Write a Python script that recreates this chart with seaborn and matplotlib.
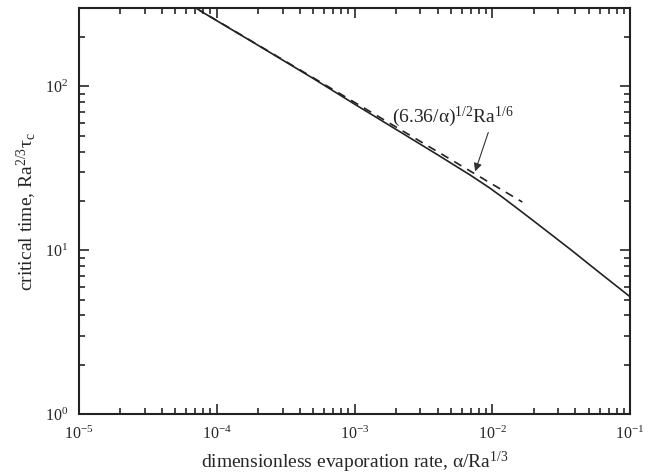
import numpy as np
import pandas as pd
import matplotlib
matplotlib.use('Agg')
import matplotlib.pyplot as plt
import matplotlib.ticker as mticker
import seaborn as sns

# values
rate = [7.5e-5, 2e-4, 5e-4, 1e-3, 2e-3, 4e-3, 6.9e-3, 9.5e-3, 1.2e-2, 1.6e-2,
        2.1e-2, 3.7e-2, 6e-2, 1e-1]
crit_time = [291, 178, 112, 78, 54.7, 38.3, 28.8, 24.1, 20.9, 17.4,
             14.6, 10.1, 7.3, 5.2]

asym_rate = [7.1e-5, 1.65e-2]
asym_time = [300, 19.7]

sns.set_style('ticks')
plt.rcParams['font.family'] = ['Liberation Serif', 'DejaVu Serif']
plt.rcParams['mathtext.fontset'] = 'custom'
plt.rcParams['mathtext.rm'] = 'Liberation Serif'
plt.rcParams['mathtext.it'] = 'Liberation Serif:italic'

fig = plt.figure(figsize=(6.53, 4.76), dpi=100)
ax = fig.add_axes([0.121, 0.130, 0.844, 0.8526])

df = pd.DataFrame({'x': rate, 'y': crit_time})
df_a = pd.DataFrame({'x': asym_rate, 'y': asym_time})
sns.lineplot(data=df, x='x', y='y', color='#222222', lw=1.2, ax=ax)
sns.lineplot(data=df_a, x='x', y='y', color='#222222', lw=1.2, ax=ax,
             linestyle=(0, (5, 4)))

ax.set_xscale('log')
ax.set_yscale('log')
ax.set_xlim(1e-5, 1e-1)
ax.set_ylim(1, 300)

ax.xaxis.set_major_locator(mticker.LogLocator(base=10, numticks=10))
ax.yaxis.set_major_locator(mticker.LogLocator(base=10, numticks=10))
ax.xaxis.set_minor_locator(mticker.LogLocator(base=10, subs=np.arange(2, 10), numticks=20))
ax.yaxis.set_minor_locator(mticker.LogLocator(base=10, subs=np.arange(2, 10), numticks=20))
ax.xaxis.set_minor_formatter(mticker.NullFormatter())
ax.yaxis.set_minor_formatter(mticker.NullFormatter())

ax.tick_params(which='both', direction='in', top=True, right=True, width=1.2, labelsize=11.5)
ax.tick_params(which='major', length=7, pad=8)
ax.tick_params(which='minor', length=4)
for s in ax.spines.values():
    s.set_linewidth(1.5)
    s.set_color('#222222')

ax.set_xlabel('dimensionless evaporation rate, α/Ra$^{1/3}$', fontsize=14, labelpad=5)
ax.set_ylabel('critical time, Ra$^{2/3}$τ$_\\mathrm{c}$', fontsize=14, labelpad=4)

ax.annotate('(6.36/α)$^{1/2}$Ra$^{1/6}$', xy=(7.5e-3, 30.3), xytext=(1.87e-3, 60.5),
            fontsize=14, ha='left', va='baseline',
            arrowprops=dict(arrowstyle='-|>', color='#333333', lw=0.8,
                            mutation_scale=12, shrinkA=0, shrinkB=0, relpos=(0.8, 0)))

fig.savefig('out.png', dpi=100)
